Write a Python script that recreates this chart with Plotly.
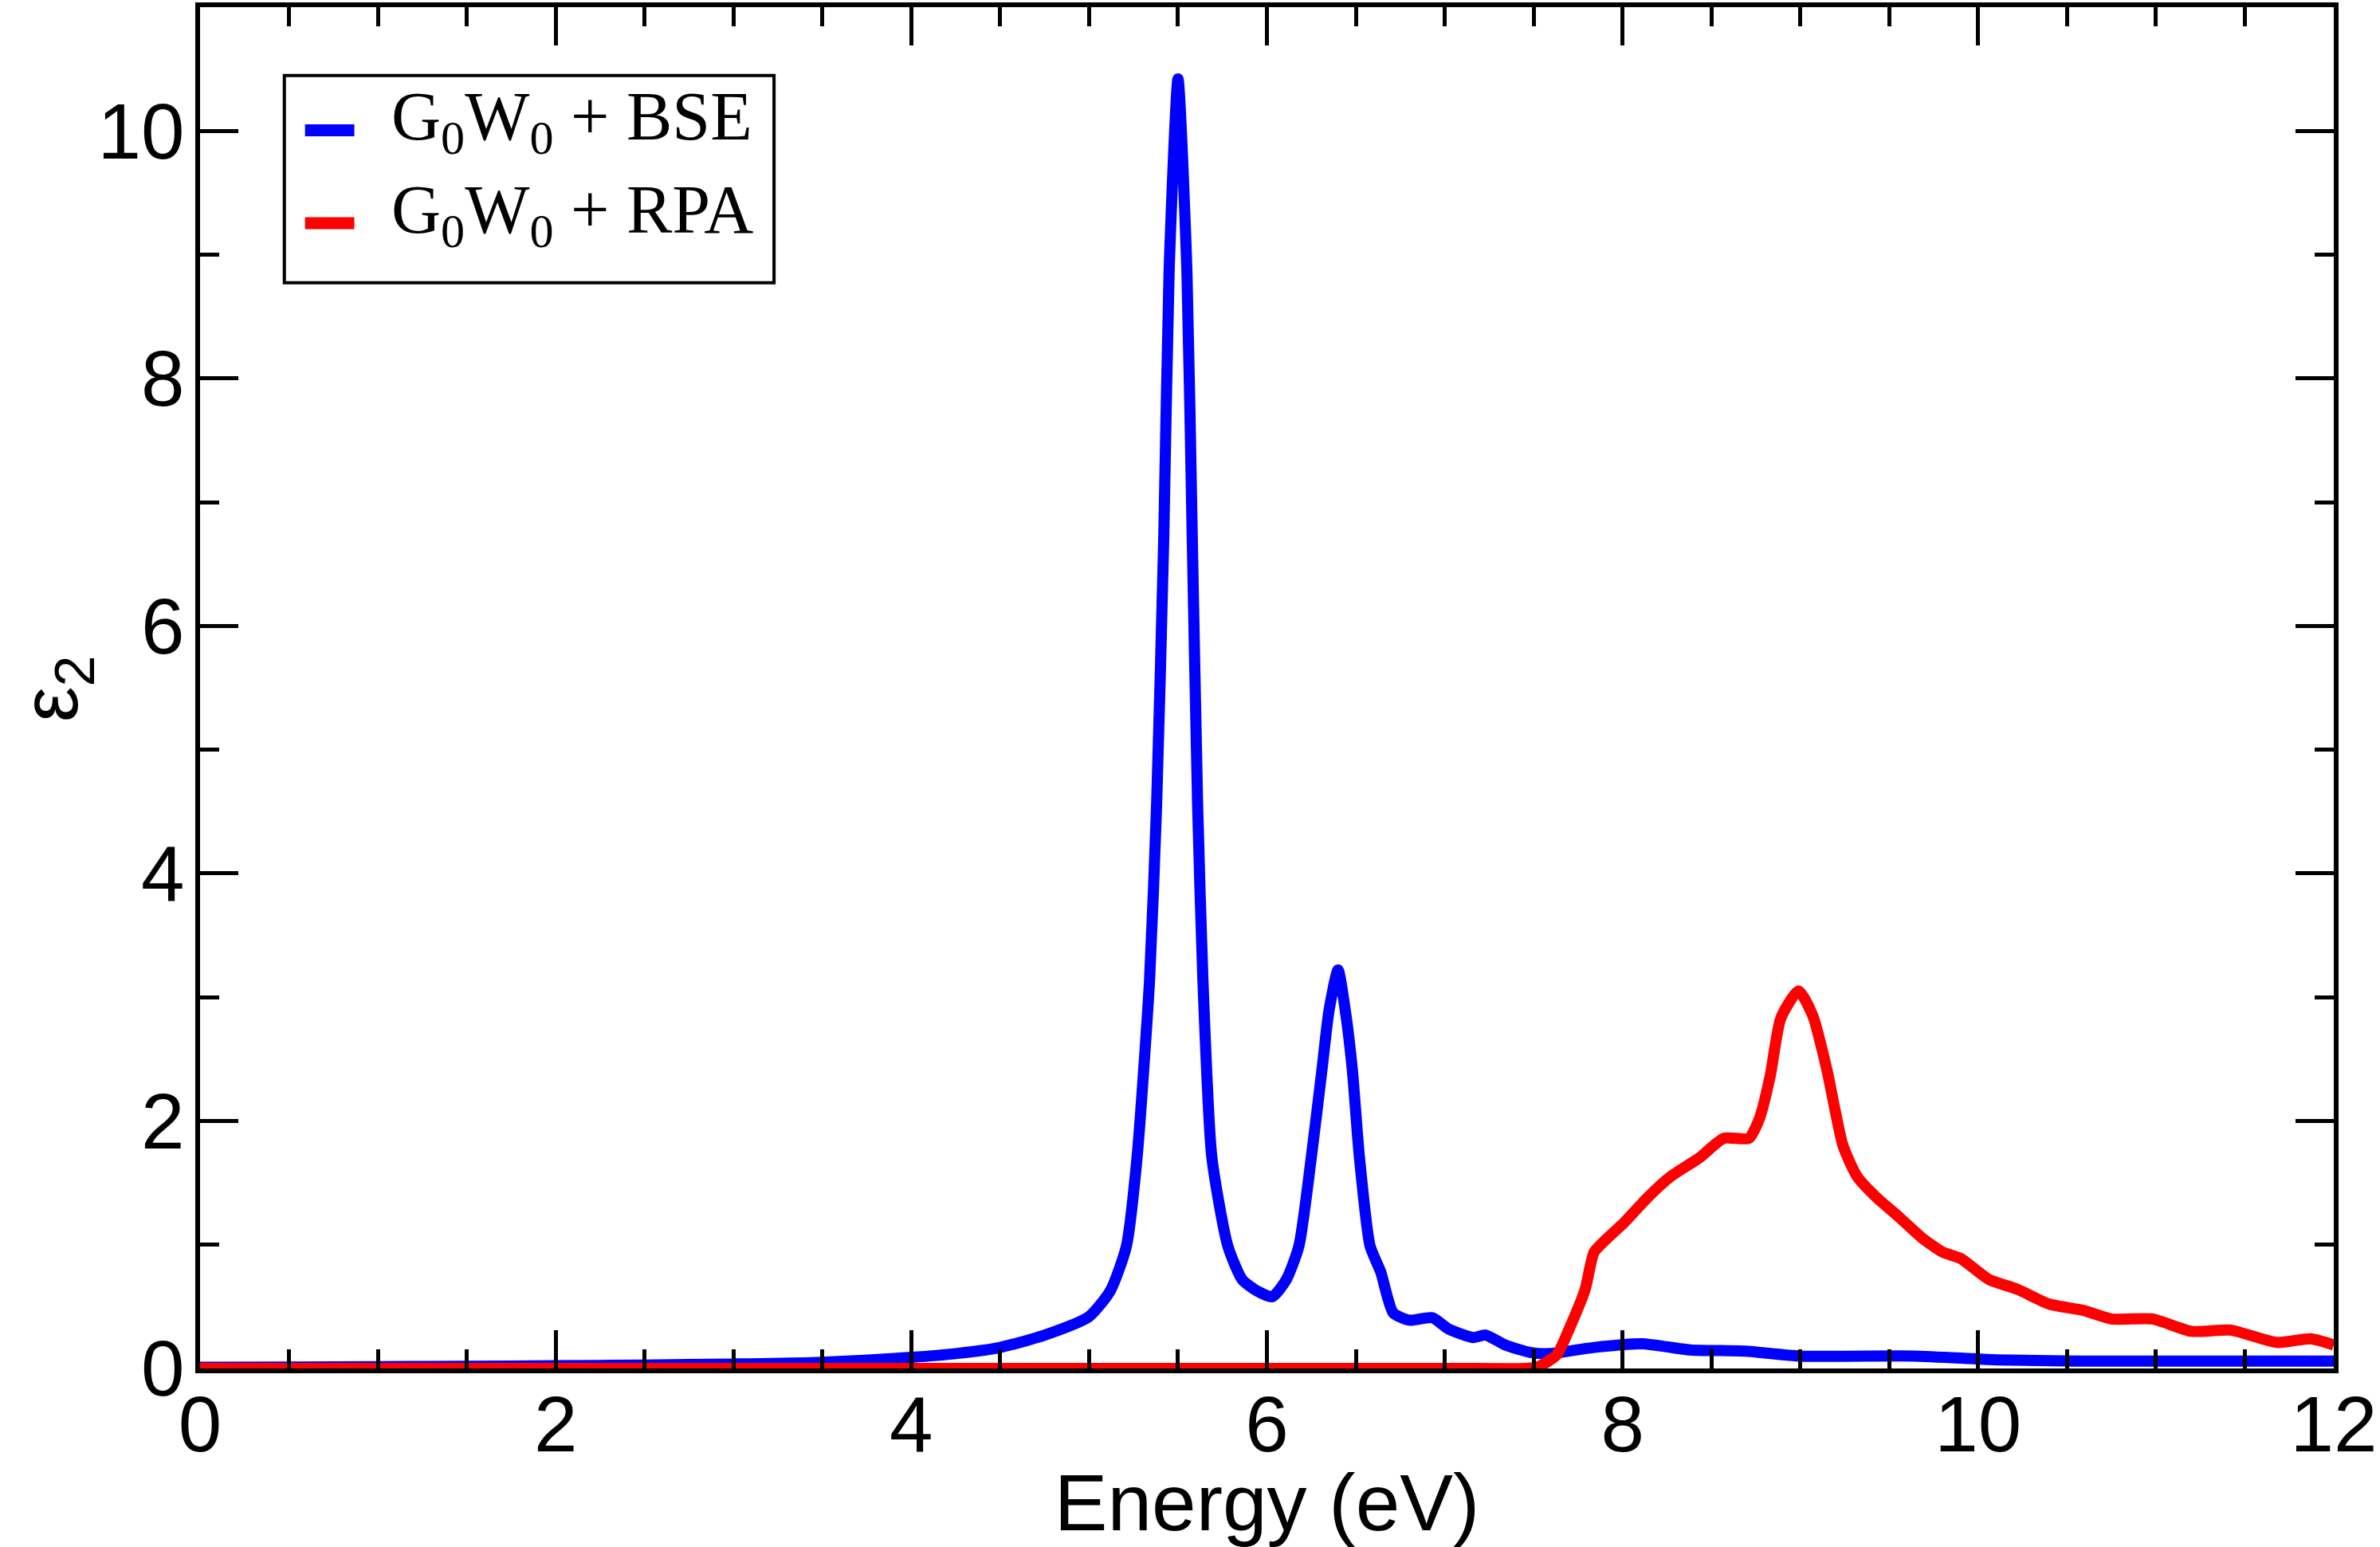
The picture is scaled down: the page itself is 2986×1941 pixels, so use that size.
import plotly.graph_objects as go

# G0W0 + BSE spectrum (energy in eV, epsilon_2)
bse_energy = [0.0, 0.5, 1.0, 1.5, 2.0, 2.5, 3.0, 3.5, 4.0, 4.25, 4.5, 4.75, 5.0, 5.12, 5.21,
              5.27, 5.34, 5.38, 5.42, 5.45, 5.50, 5.55, 5.58, 5.61, 5.64, 5.69, 5.78, 5.86,
              5.94, 6.03, 6.11, 6.18, 6.25, 6.31, 6.35, 6.40, 6.44, 6.48, 6.52, 6.58, 6.64,
              6.71, 6.80, 6.93, 7.02, 7.16, 7.23, 7.34, 7.48, 7.59, 7.84, 8.11, 8.38, 8.69,
              9.0, 9.64, 10.1, 10.55, 11.0, 12.0]
bse_eps2 = [0.01, 0.012, 0.015, 0.018, 0.022, 0.028, 0.036, 0.05, 0.09, 0.12, 0.17, 0.27, 0.42,
            0.63, 0.99, 1.71, 3.14, 4.57, 6.72, 8.87, 10.42, 8.87, 6.72, 4.57, 3.14, 1.71, 0.99,
            0.72, 0.63, 0.58, 0.72, 0.99, 1.71, 2.42, 2.9, 3.22, 2.9, 2.42, 1.71, 0.99, 0.78,
            0.45, 0.39, 0.41, 0.32, 0.25, 0.27, 0.19, 0.13, 0.12, 0.17, 0.20, 0.15, 0.14,
            0.10, 0.10, 0.07, 0.06, 0.06, 0.06]

# G0W0 + RPA spectrum
rpa_energy = [0.0, 7.0, 7.45, 7.52, 7.63, 7.70, 7.79, 7.84, 7.92, 8.01, 8.14, 8.27, 8.43, 8.57,
              8.71, 8.77, 8.83, 8.89, 8.99, 9.07, 9.15, 9.24, 9.32, 9.43, 9.55, 9.68, 9.80,
              9.90, 10.06, 10.22, 10.40, 10.59, 10.75, 10.98, 11.20, 11.42, 11.68, 11.87, 12.0]
rpa_eps2 = [0.0, 0.0, 0.0, 0.01, 0.11, 0.32, 0.64, 0.94, 1.06, 1.18, 1.38, 1.55, 1.70, 1.86,
            1.86, 2.02, 2.36, 2.83, 3.05, 2.85, 2.41, 1.80, 1.55, 1.38, 1.23, 1.06, 0.94,
            0.89, 0.72, 0.64, 0.52, 0.47, 0.40, 0.40, 0.30, 0.31, 0.21, 0.24, 0.19]

series_names = ['G<sub>0</sub>W<sub>0</sub> + BSE', 'G<sub>0</sub>W<sub>0</sub> + RPA']
series_colors = ['#0000ff', '#ff0000']
x_ticks = [0, 2, 4, 6, 8, 10, 12]
y_ticks = [0, 2, 4, 6, 8, 10]

sans = 'Liberation Sans, Arial, sans-serif'
serif = 'Liberation Serif, Times New Roman, serif'

fig = go.Figure()
fig.add_trace(go.Scatter(x=bse_energy, y=bse_eps2, mode='lines', name=series_names[0],
                         line=dict(color=series_colors[0], width=14, shape='spline', smoothing=0.6)))
fig.add_trace(go.Scatter(x=rpa_energy, y=rpa_eps2, mode='lines', name=series_names[1],
                         line=dict(color=series_colors[1], width=14, shape='spline', smoothing=0.6)))

axis_style = dict(showline=True, linecolor='black', linewidth=6, mirror='ticks',
                  ticks='inside', ticklen=48, tickwidth=5, tickcolor='black',
                  showgrid=False, zeroline=False, ticklabeloverflow='allow',
                  tickfont=dict(family=sans, size=98, color='black'))

fig.update_xaxes(range=[0, 12], tickvals=x_ticks, ticklabelstandoff=-20,
                 minor=dict(dtick=0.5, ticks='inside', ticklen=24, tickwidth=5, tickcolor='black'),
                 title=dict(text='Energy (eV)', font=dict(family=sans, size=100, color='black'), standoff=0),
                 **axis_style)
fig.update_yaxes(range=[0, 11], tickvals=y_ticks, ticklabelstandoff=-6,
                 minor=dict(dtick=1, ticks='inside', ticklen=24, tickwidth=5, tickcolor='black'),
                 **axis_style)

# y title as rotated annotation so it can sit as far left as in the original
fig.add_annotation(x=-0.068, y=0.4994, xref='paper', yref='paper', text='ε<sub>2</sub>',
                   textangle=-90, showarrow=False, xanchor='center', yanchor='middle',
                   font=dict(family=sans, size=100, color='black'))

# legend box drawn by hand (xmgrace style: long thick line samples)
fig.add_shape(type='rect', xref='paper', yref='paper', x0=0.0395, x1=0.2690, y0=0.7976, y1=0.9498,
              line=dict(color='black', width=4), fillcolor='white', layer='above')
legend_rows = [0.9095, 0.8413]
for name, color, row in zip(series_names, series_colors, legend_rows):
    fig.add_shape(type='line', xref='paper', yref='paper', x0=0.0492, x1=0.0723, y0=row, y1=row,
                  line=dict(color=color, width=15), layer='above')
    fig.add_annotation(x=0.0890, y=row + 0.0065, xref='paper', yref='paper', text=name,
                       showarrow=False, xanchor='left', yanchor='middle',
                       font=dict(family=serif, size=86, color='black'))

fig.update_layout(
    width=2986, height=1941,
    margin=dict(l=251, r=51, t=3, b=224),
    plot_bgcolor='white', paper_bgcolor='white',
    showlegend=False,
)

fig.write_html("out.html", config={'displayModeBar': False},
               post_script="document.body.style.margin = '0px';")
